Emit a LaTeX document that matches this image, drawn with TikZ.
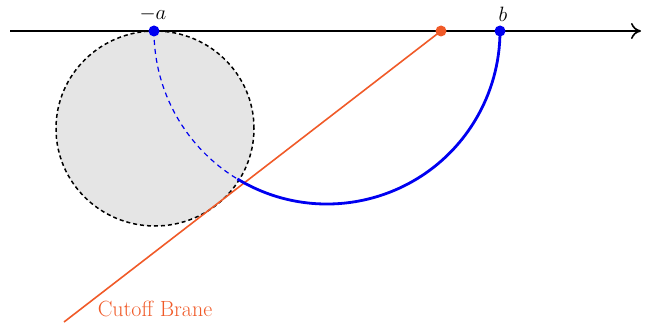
\documentclass[tikz,border=0pt]{standalone}
\usetikzlibrary{arrows.meta}
\definecolor{brane}{RGB}{240,90,40}
\definecolor{geo}{RGB}{0,0,240}
\tikzset{
  dot/.style={circle,inner sep=0pt,minimum size=11pt},
  lbl/.style={font=\fontsize{20}{22}\selectfont},
}
\begin{document}
\begin{tikzpicture}[x=1pt,y=1pt]
\useasboundingbox (0,0) rectangle (647,327);
% gray disc
\filldraw[fill=black!10,draw=black,line width=1.5pt,dash pattern=on 4pt off 3pt] (155,198.5) ellipse[x radius=99,y radius=97.5];
% axis
\coordinate (L) at (10,296);
\coordinate (R) at (641,296);
\draw[line width=1.6pt,-{To[length=10pt,width=16pt,line width=1.6pt]}] (L) -- (R);
% cutoff brane
\coordinate (B0) at (441,296);
\coordinate (B1) at (64,5);
\draw[brane,line width=1.6pt] (B0) -- (B1);
% geodesic
\draw[geo,line width=1.2pt,dash pattern=on 5pt off 4pt] (154,296) arc[start angle=180,end angle=238.8,radius=173];
\draw[geo,line width=2.8pt] ([shift={(238.8:173)}]327,296) arc[start angle=238.8,end angle=360,radius=173];
% dots
\node[dot,fill=brane] (o) at (441,296) {};
\node[dot,fill=geo] (ma) at (154,296) {};
\node[dot,fill=geo] (mb) at (500,296) {};
\node[lbl,anchor=south] (la) at (153,302) {$-a$};
\node[lbl,anchor=south] (lb) at (503,302) {$b$};
\node[text=brane,font=\fontsize{22}{24}\selectfont] (cb) at (155,18) {Cutoff Brane};
\end{tikzpicture}
\end{document}
